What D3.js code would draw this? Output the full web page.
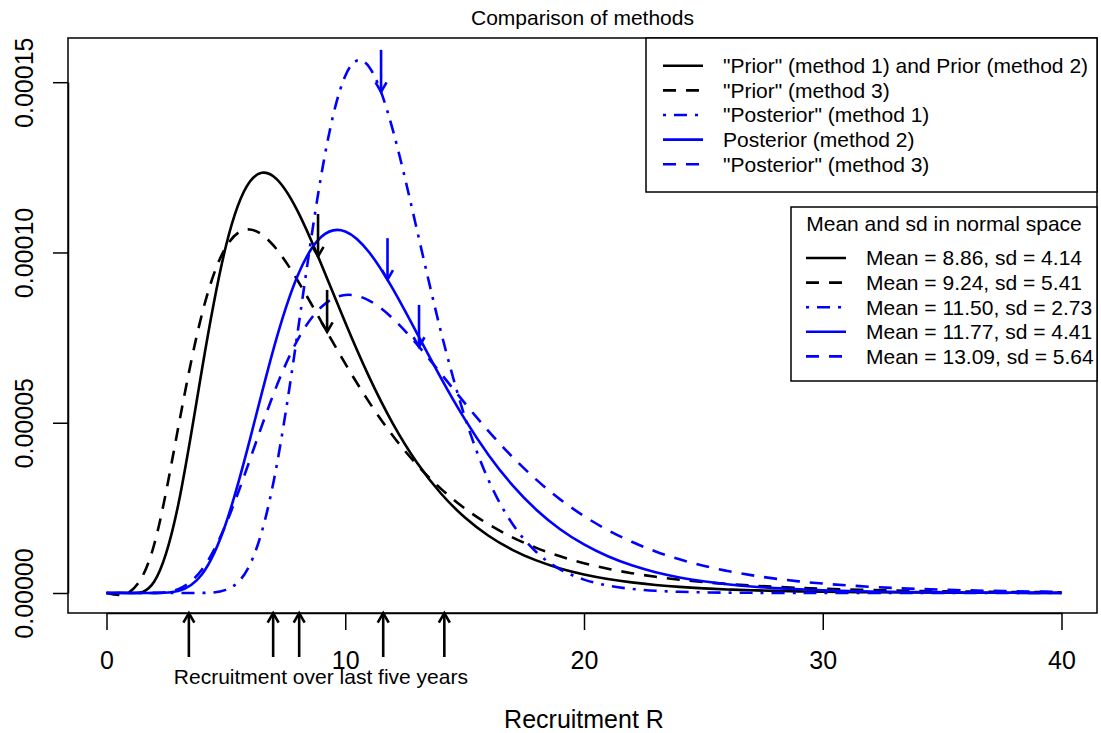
<!DOCTYPE html>
<html><head><meta charset="utf-8">
<script src="https://cdn.jsdelivr.net/npm/d3@7"></script>
<style>
body{margin:0;background:#fff;}
svg{display:block;font-family:"Liberation Sans",Arial,sans-serif;}
</style>
</head><body>
<svg id="chart" width="1101" height="733"></svg>
<script>
// ---------------- data (densities in units of 1e-5) ----------------
const xValues = [0,1,2,3,4,5,6,7,8,9,10,11,12,13,14,15,16,17,18,19,20,21,22,23,24,25,26,27,28,29,30,32,34,36,38,40];
const priorM1M2 = [0,0.0015,0.338,2.576,6.572,10.181,12.074,12.230,11.221,9.649,7.944,6.347,4.968,3.833,2.929,2.224,1.682,1.269,0.957,0.721,0.544,0.411,0.311,0.236,0.179,0.137,0.105,0.080,0.062,0.047,0.037,0.022,0.0135,0.0083,0.0052,0.0033];
const priorM3 = [0,0.049,1.432,4.843,8.194,10.156,10.676,10.199,9.185,7.964,6.736,5.604,4.612,3.769,3.066,2.488,2.017,1.635,1.326,1.077,0.875,0.713,0.582,0.476,0.390,0.321,0.264,0.218,0.181,0.150,0.125,0.087,0.061,0.043,0.031,0.022];
const posteriorM1 = [0,0,0,0,0.0027,0.092,0.823,3.274,7.630,12.287,15.185,15.448,13.578,10.674,7.697,5.189,3.316,2.033,1.205,0.695,0.393,0.218,0.120,0.065,0.035,0.019,0.010,0.0053,0.0028,0.0015,0.0008,0.0002,0.0001,0,0,0];
const posteriorM2 = [0,0,0.0008,0.058,0.551,2.042,4.490,7.177,9.308,10.460,10.618,10.006,8.924,7.633,6.324,5.112,4.054,3.168,2.447,1.874,1.425,1.078,0.812,0.610,0.458,0.343,0.257,0.192,0.144,0.108,0.081,0.046,0.026,0.015,0.0085,0.0049];
const posteriorM3 = [0,0,0.0038,0.112,0.690,2.018,3.902,5.852,7.425,8.399,8.752,8.588,8.056,7.304,6.451,5.582,4.753,3.997,3.329,2.750,2.259,1.846,1.504,1.221,0.990,0.801,0.648,0.524,0.423,0.342,0.277,0.181,0.119,0.079,0.052,0.035];

const seriesNames = ['"Prior" (method 1) and Prior (method 2)', '"Prior" (method 3)', '"Posterior" (method 1)', 'Posterior (method 2)', '"Posterior" (method 3)'];
const means = [8.86, 9.24, 11.50, 11.77, 13.09];
const sds = [4.14, 5.41, 2.73, 4.41, 5.64];
const arrowTips = [9.885, 7.665, 14.714, 9.199, 7.230];
const arrowTops = [11.13, 8.90, 15.95, 10.42, 8.46];
const recentRecruitment = [3.45, 6.98, 8.07, 11.59, 14.15];

const xTicks = [0, 10, 20, 30, 40];
const yTicks = [0, 5, 10, 15];
const yTickLabels = ["0.00000", "0.00005", "0.00010", "0.00015"];

const titleText = "Comparison of methods";
const xTitle = "Recruitment R";
const recentLabel = "Recruitment over last five years";
const legend2Title = "Mean and sd in normal space";

// ---------------- styles ----------------
const seriesData = [priorM1M2, priorM3, posteriorM1, posteriorM2, posteriorM3];
const colors = ["#000", "#000", "#0000ff", "#0000ff", "#0000ff"];
const DASH = "13,10", DOTDASH = "3,8,13,8";
const dashes = [null, DASH, DOTDASH, null, DASH];
const LW = 2.6;

const svg = d3.select("#chart");
const box = {l: 68, r: 1097, t: 38, b: 613};
const x = d3.scaleLinear().domain([0, 40]).range([106.5, 1061.5]);
const y = d3.scaleLinear().domain([0, 15]).range([593, 82.2]);

svg.append("rect").attr("width", 1101).attr("height", 733).attr("fill", "#fff");

svg.append("defs").append("clipPath").attr("id", "clip")
  .append("rect").attr("x", box.l).attr("y", box.t).attr("width", box.r - box.l).attr("height", box.b - box.t);

// title
svg.append("text").attr("x", (box.l + box.r) / 2).attr("y", 25).attr("text-anchor", "middle")
  .attr("font-size", 21).attr("fill", "#000").text(titleText);

// x axis
const xAxis = d3.axisBottom(x).tickValues(xTicks).tickSize(17).tickSizeOuter(0).tickPadding(21).tickFormat(d3.format("d"));
const gx = svg.append("g").attr("transform", `translate(0,${box.b})`).call(xAxis);
gx.selectAll("text").attr("font-size", 25).attr("fill", "#000").attr("font-family", "Liberation Sans, Arial, sans-serif");
gx.selectAll("line,path").attr("stroke", "#000").attr("stroke-width", 1.5);

// y axis
const yAxis = d3.axisLeft(y).tickValues(yTicks).tickSize(15).tickSizeOuter(0).tickFormat((d, i) => yTickLabels[i]);
const gy = svg.append("g").attr("transform", `translate(${box.l},0)`).call(yAxis);
gy.selectAll("line,path").attr("stroke", "#000").attr("stroke-width", 1.5);
gy.selectAll("text").attr("font-size", 25).attr("fill", "#000").attr("font-family", "Liberation Sans, Arial, sans-serif")
  .attr("x", null).attr("dy", null).attr("text-anchor", "middle")
  .attr("transform", "translate(-35,0) rotate(-90)");

// x title
svg.append("text").attr("x", x(20)).attr("y", 728).attr("text-anchor", "middle")
  .attr("font-size", 25).attr("fill", "#000").text(xTitle);

// curves
const line = d3.line().x((d, i) => x(xValues[i])).y(d => y(d)).curve(d3.curveNatural);
const gc = svg.append("g").attr("clip-path", "url(#clip)");
seriesData.forEach((s, k) => {
  gc.append("path").attr("d", line(s)).attr("fill", "none")
    .attr("stroke", colors[k]).attr("stroke-width", LW)
    .attr("stroke-dasharray", dashes[k]);
});

// arrows
function arrow(g, x1, y1, x2, y2, color) {
  const ang = Math.atan2(y2 - y1, x2 - x1), L = 11, a = Math.PI / 6;
  g.append("line").attr("x1", x1).attr("y1", y1).attr("x2", x2).attr("y2", y2)
    .attr("stroke", color).attr("stroke-width", LW);
  g.append("path")
    .attr("d", `M${x2 - L * Math.cos(ang - a)},${y2 - L * Math.sin(ang - a)}L${x2},${y2}L${x2 - L * Math.cos(ang + a)},${y2 - L * Math.sin(ang + a)}`)
    .attr("fill", "none").attr("stroke", color).attr("stroke-width", LW)
    .attr("stroke-linejoin", "miter");
}
const ga = svg.append("g");
means.forEach((m, k) => arrow(ga, x(m), y(arrowTops[k]), x(m), y(arrowTips[k]), colors[k]));
recentRecruitment.forEach(v => arrow(ga, x(v), 657, x(v), box.b, "#000"));

svg.append("text").attr("x", x(8.98)).attr("y", 684).attr("text-anchor", "middle")
  .attr("font-size", 21).attr("fill", "#000").text(recentLabel);

// plot box
svg.append("rect").attr("x", box.l).attr("y", box.t).attr("width", box.r - box.l).attr("height", box.b - box.t)
  .attr("fill", "none").attr("stroke", "#000").attr("stroke-width", 1.5);

// legend 1
const lg1 = svg.append("g");
lg1.append("rect").attr("x", 646).attr("y", box.t).attr("width", box.r - 646).attr("height", 192 - box.t)
  .attr("fill", "#fff").attr("stroke", "#000").attr("stroke-width", 1.5);
seriesNames.forEach((name, k) => {
  const yy = 65.8 + k * 24.6;
  lg1.append("line").attr("x1", 663).attr("x2", 703).attr("y1", yy).attr("y2", yy)
    .attr("stroke", colors[k]).attr("stroke-width", LW).attr("stroke-dasharray", dashes[k]);
  lg1.append("text").attr("x", 723).attr("y", yy).attr("dy", "0.35em")
    .attr("font-size", 21).attr("fill", "#000").text(name);
});

// legend 2
const lg2 = svg.append("g");
lg2.append("rect").attr("x", 791).attr("y", 207).attr("width", box.r - 791).attr("height", 381 - 207)
  .attr("fill", "#fff").attr("stroke", "#000").attr("stroke-width", 1.5);
lg2.append("text").attr("x", (791 + box.r) / 2).attr("y", 224).attr("dy", "0.35em").attr("text-anchor", "middle")
  .attr("font-size", 21).attr("fill", "#000").text(legend2Title);
means.forEach((m, k) => {
  const yy = 258 + k * 24.6;
  lg2.append("line").attr("x1", 806).attr("x2", 846).attr("y1", yy).attr("y2", yy)
    .attr("stroke", colors[k]).attr("stroke-width", LW).attr("stroke-dasharray", dashes[k]);
  lg2.append("text").attr("x", 866).attr("y", yy).attr("dy", "0.35em")
    .attr("font-size", 21).attr("fill", "#000").text(`Mean = ${m.toFixed(2)}, sd = ${sds[k].toFixed(2)}`);
});
</script>
</body></html>
